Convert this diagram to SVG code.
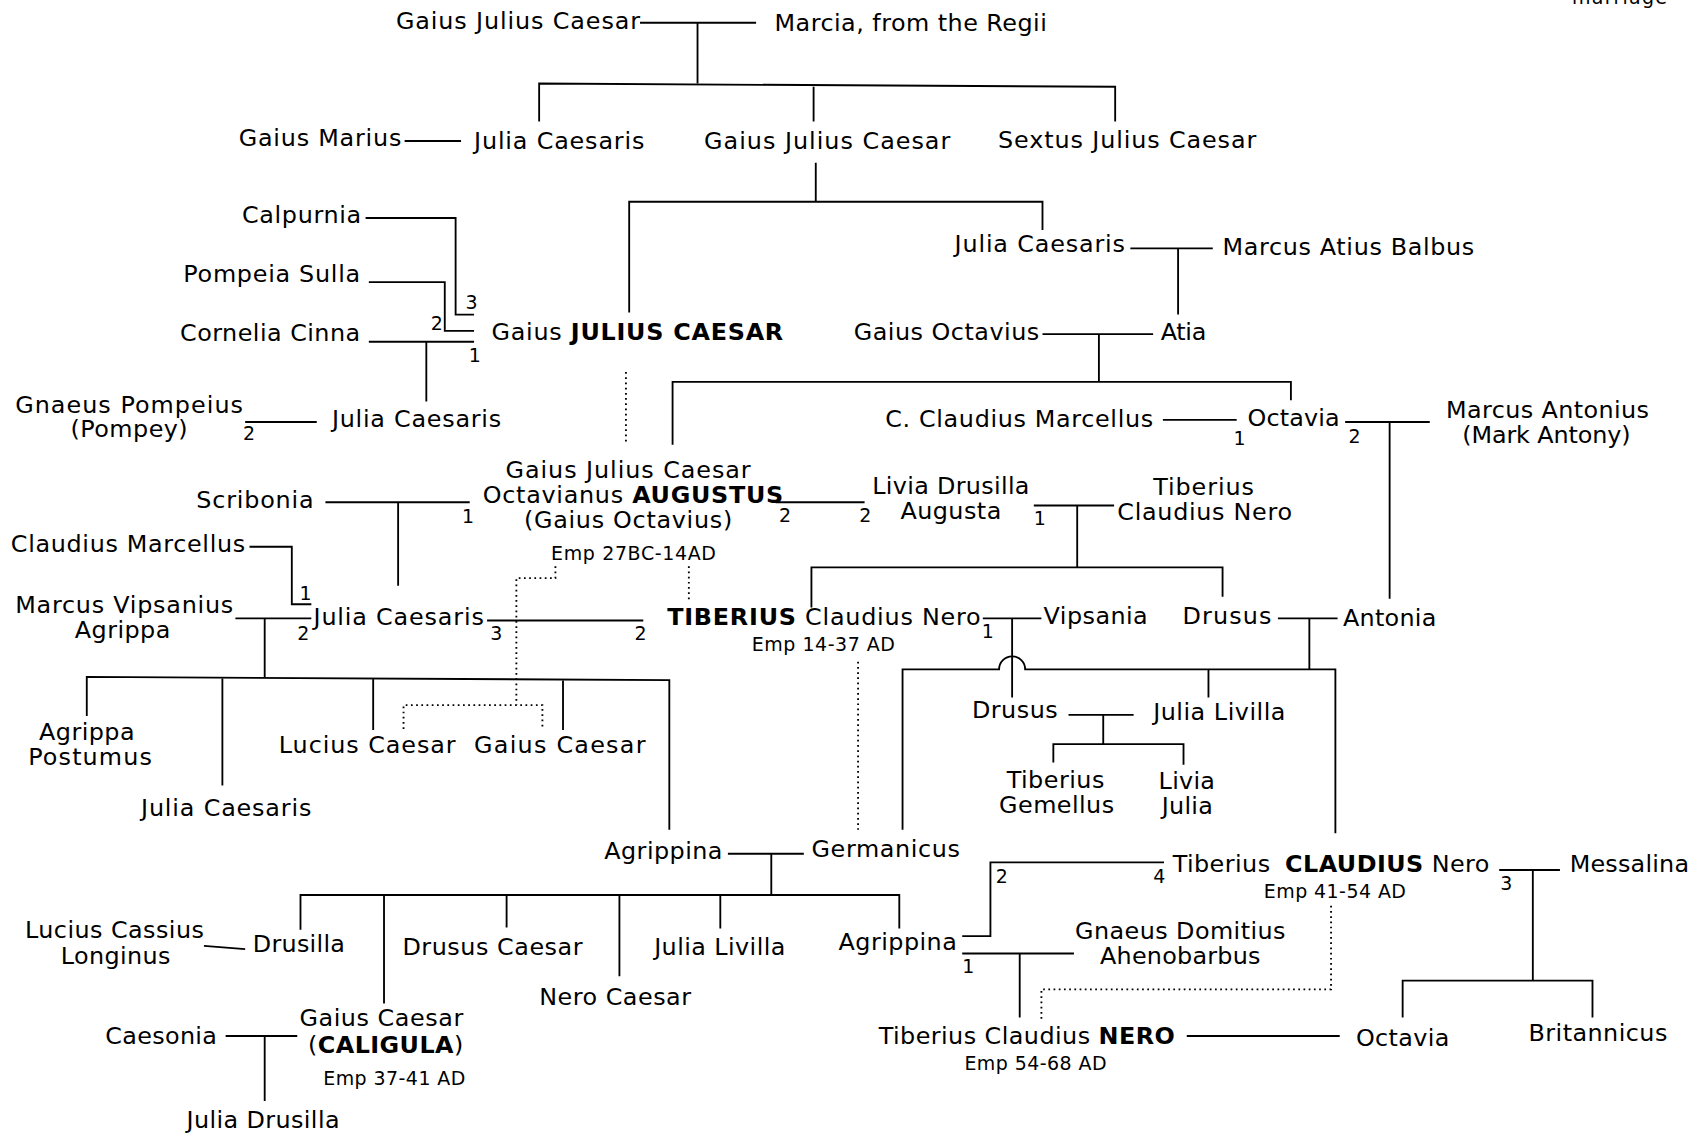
<svg xmlns="http://www.w3.org/2000/svg" width="1701" height="1134" viewBox="0 0 1701 1134">
<style>
text{font-family:"DejaVu Sans","Liberation Sans",sans-serif;fill:#000}
.t{font-size:22px}
.s{font-size:17.5px}
.n{font-size:17.5px}
.b{font-weight:bold}
.ln{fill:none;stroke:#000;stroke-width:1.7}
.dt{fill:none;stroke:#000;stroke-width:1.7;stroke-dasharray:1.6 3.2}
</style>
<rect width="1701" height="1134" fill="#fff"/>
<text x="1572" y="4" style="font-family:'DejaVu Sans',sans-serif;font-size:19px" textLength="95" lengthAdjust="spacing">marriage</text>
<g transform="scale(1.0848)">
<g id="connectors">
<path class="ln" d="M590,21 H697 M643,21 V77"/>
<path class="ln" d="M497,112 V77 L1028,80 V112 M750,80 V112"/>
<path class="ln" d="M373,130 H425"/>
<path class="ln" d="M752,150 V186 M580,288 V186 H961 V212"/>
<path class="ln" d="M337,201 H420 V290 H437"/>
<path class="ln" d="M340,260 H410 V305 H437"/>
<path class="ln" d="M340,315 H437 M393,315 V370"/>
<path class="ln" d="M1042,229 H1118 M1086,229 V290"/>
<path class="ln" d="M961,308 H1063 M1013,308 V352"/>
<path class="ln" d="M620,410 V352 H1190 V369"/>
<path class="dt" d="M577,343 V410"/>
<path class="ln" d="M226,389 H292"/>
<path class="ln" d="M1072,387 H1140"/>
<path class="ln" d="M1240,389 H1318 M1281,389 V552"/>
<path class="ln" d="M300,463 H433 M367,463 V540"/>
<path class="ln" d="M715,463 H797"/>
<path class="ln" d="M953,466 H1027 M993,466 V523"/>
<path class="ln" d="M748,560 V523 H1127 V550"/>
<path class="ln" d="M230,504 H269 V557 H287"/>
<path class="ln" d="M217,570 H287 M244,570 V624"/>
<path class="ln" d="M449,572 H593"/>
<path class="ln" d="M80,660 V624 L617,627 V765 M205,624 V724 M344,625 V673 M519,626 V673"/>
<path class="dt" d="M512,522 V533 H476 V650 M372,672 V650 H500 V672"/>
<path class="dt" d="M635,522 V553"/>
<path class="ln" d="M906,570 H960 M933,570 V643"/>
<path class="ln" d="M1178,570 H1233 M1207,570 V617"/>
<path class="ln" d="M832,765 V617 H921 A12,12 0 0 1 945,617 H1231 V768 M1114,617 V643"/>
<path class="dt" d="M791,610 V765"/>
<path class="ln" d="M985,659 H1045 M1017,659 V686 M971,703 V686 H1091 V705"/>
<path class="ln" d="M671,787 H741 M711,787 V825"/>
<path class="ln" d="M277,857 V825 H829 V856 M354,825 V925 M467,825 V855 M571,825 V900 M664,825 V856"/>
<path class="ln" d="M188,872 L226,875"/>
<path class="ln" d="M887,863 H913 V795 H1073"/>
<path class="ln" d="M887,879 H990 M940,879 V938"/>
<path class="ln" d="M1382,802 H1438 M1413,802 V904 M1293,938 V904 H1468 V938"/>
<path class="dt" d="M1227,835 V912 H960 V940"/>
<path class="ln" d="M1094,955 H1235"/>
<path class="ln" d="M208,955 H274 M244,955 V1015"/>
</g>
<g id="labels">
<text class="n" x="429" y="285">3</text>
<text class="n" x="397" y="304">2</text>
<text class="n" x="432" y="334">1</text>
<text class="n" x="224" y="406">2</text>
<text class="n" x="1137" y="410">1</text>
<text class="n" x="1243" y="408">2</text>
<text class="n" x="426" y="482">1</text>
<text class="n" x="718" y="481">2</text>
<text class="n" x="792" y="481">2</text>
<text class="n" x="953" y="484">1</text>
<text class="n" x="276" y="553">1</text>
<text class="n" x="274" y="590">2</text>
<text class="n" x="452" y="590">3</text>
<text class="n" x="585" y="590">2</text>
<text class="n" x="905" y="588">1</text>
<text class="n" x="918" y="814">2</text>
<text class="n" x="1063" y="814">4</text>
<text class="n" x="887" y="897">1</text>
<text class="n" x="1383" y="820">3</text>
</g>
<g id="n1"><text class="t" x="365" y="27" textLength="225" lengthAdjust="spacing">Gaius Julius Caesar</text></g>
<g id="n2"><text class="t" x="714" y="29" textLength="251" lengthAdjust="spacing">Marcia, from the Regii</text></g>
<g id="n3"><text class="t" x="220" y="135" textLength="150" lengthAdjust="spacing">Gaius Marius</text></g>
<g id="n4"><text class="t" x="437" y="137" textLength="157" lengthAdjust="spacing">Julia Caesaris</text></g>
<g id="n5"><text class="t" x="649" y="137" textLength="227" lengthAdjust="spacing">Gaius Julius Caesar</text></g>
<g id="n6"><text class="t" x="920" y="136" textLength="238" lengthAdjust="spacing">Sextus Julius Caesar</text></g>
<g id="n7"><text class="t" x="223" y="206" textLength="110" lengthAdjust="spacing">Calpurnia</text></g>
<g id="n8"><text class="t" x="880" y="232" textLength="157" lengthAdjust="spacing">Julia Caesaris</text></g>
<g id="n9"><text class="t" x="1127" y="235" textLength="232" lengthAdjust="spacing">Marcus Atius Balbus</text></g>
<g id="n10"><text class="t" x="169" y="260" textLength="163" lengthAdjust="spacing">Pompeia Sulla</text></g>
<g id="n11"><text class="t" x="166" y="314" textLength="166" lengthAdjust="spacing">Cornelia Cinna</text></g>
<g id="n12"><text class="t" x="453" y="313" textLength="269" lengthAdjust="spacing">Gaius <tspan class="b">JULIUS CAESAR</tspan></text></g>
<g id="n13"><text class="t" x="787" y="313" textLength="171" lengthAdjust="spacing">Gaius Octavius</text></g>
<g id="n14"><text class="t" x="1070" y="313" textLength="42" lengthAdjust="spacing">Atia</text></g>
<g id="n15"><text class="t" x="14" y="381" textLength="210" lengthAdjust="spacing">Gnaeus Pompeius</text><text class="t" x="65" y="403" textLength="108" lengthAdjust="spacing">(Pompey)</text></g>
<g id="n16"><text class="t" x="306" y="394" textLength="156" lengthAdjust="spacing">Julia Caesaris</text></g>
<g id="n17"><text class="t" x="816" y="394" textLength="247" lengthAdjust="spacing">C. Claudius Marcellus</text></g>
<g id="n18"><text class="t" x="1150" y="393" textLength="85" lengthAdjust="spacing">Octavia</text></g>
<g id="n19"><text class="t" x="1333" y="385" textLength="187" lengthAdjust="spacing">Marcus Antonius</text><text class="t" x="1348" y="408" textLength="155" lengthAdjust="spacing">(Mark Antony)</text></g>
<g id="n20"><text class="t" x="466" y="441" textLength="226" lengthAdjust="spacing">Gaius Julius Caesar</text><text class="t" x="445" y="464" textLength="277" lengthAdjust="spacing">Octavianus <tspan class="b">AUGUSTUS</tspan></text><text class="t" x="483" y="487" textLength="192" lengthAdjust="spacing">(Gaius Octavius)</text><text class="s" x="508" y="516" textLength="152" lengthAdjust="spacing">Emp 27BC-14AD</text></g>
<g id="n21"><text class="t" x="181" y="468" textLength="108" lengthAdjust="spacing">Scribonia</text></g>
<g id="n22"><text class="t" x="804" y="455" textLength="145" lengthAdjust="spacing">Livia Drusilla</text><text class="t" x="830" y="478" textLength="93" lengthAdjust="spacing">Augusta</text></g>
<g id="n23"><text class="t" x="1063" y="456" textLength="93" lengthAdjust="spacing">Tiberius</text><text class="t" x="1030" y="479" textLength="161" lengthAdjust="spacing">Claudius Nero</text></g>
<g id="n24"><text class="t" x="10" y="509" textLength="216" lengthAdjust="spacing">Claudius Marcellus</text></g>
<g id="n25"><text class="t" x="14" y="565" textLength="201" lengthAdjust="spacing">Marcus Vipsanius</text><text class="t" x="69" y="588" textLength="88" lengthAdjust="spacing">Agrippa</text></g>
<g id="n26"><text class="t" x="289" y="576" textLength="157" lengthAdjust="spacing">Julia Caesaris</text></g>
<g id="n27"><text class="t" x="615" y="576" textLength="289" lengthAdjust="spacing"><tspan class="b">TIBERIUS</tspan> Claudius Nero</text><text class="s" x="693" y="600" textLength="132" lengthAdjust="spacing">Emp 14-37 AD</text></g>
<g id="n28"><text class="t" x="962" y="575" textLength="96" lengthAdjust="spacing">Vipsania</text></g>
<g id="n29"><text class="t" x="1090" y="575" textLength="82" lengthAdjust="spacing">Drusus</text></g>
<g id="n30"><text class="t" x="1238" y="577" textLength="86" lengthAdjust="spacing">Antonia</text></g>
<g id="n31"><text class="t" x="36" y="682" textLength="88" lengthAdjust="spacing">Agrippa</text><text class="t" x="26" y="705" textLength="114" lengthAdjust="spacing">Postumus</text></g>
<g id="n32"><text class="t" x="130" y="752" textLength="157" lengthAdjust="spacing">Julia Caesaris</text></g>
<g id="n33"><text class="t" x="257" y="694" textLength="163" lengthAdjust="spacing">Lucius Caesar</text></g>
<g id="n34"><text class="t" x="437" y="694" textLength="158" lengthAdjust="spacing">Gaius Caesar</text></g>
<g id="n35"><text class="t" x="896" y="662" textLength="79" lengthAdjust="spacing">Drusus</text></g>
<g id="n36"><text class="t" x="1063" y="664" textLength="122" lengthAdjust="spacing">Julia Livilla</text></g>
<g id="n37"><text class="t" x="928" y="726" textLength="90" lengthAdjust="spacing">Tiberius</text><text class="t" x="921" y="749" textLength="106" lengthAdjust="spacing">Gemellus</text></g>
<g id="n38"><text class="t" x="1068" y="727" textLength="52" lengthAdjust="spacing">Livia</text><text class="t" x="1071" y="750" textLength="47" lengthAdjust="spacing">Julia</text></g>
<g id="n39"><text class="t" x="557" y="792" textLength="109" lengthAdjust="spacing">Agrippina</text></g>
<g id="n40"><text class="t" x="748" y="790" textLength="137" lengthAdjust="spacing">Germanicus</text></g>
<g id="n41"><text class="t" x="23" y="865" textLength="165" lengthAdjust="spacing">Lucius Cassius</text><text class="t" x="56" y="889" textLength="101" lengthAdjust="spacing">Longinus</text></g>
<g id="n42"><text class="t" x="233" y="878" textLength="85" lengthAdjust="spacing">Drusilla</text></g>
<g id="n43"><text class="t" x="371" y="880" textLength="166" lengthAdjust="spacing">Drusus Caesar</text></g>
<g id="n44"><text class="t" x="497" y="926" textLength="140" lengthAdjust="spacing">Nero Caesar</text></g>
<g id="n45"><text class="t" x="603" y="880" textLength="121" lengthAdjust="spacing">Julia Livilla</text></g>
<g id="n46"><text class="t" x="773" y="876" textLength="109" lengthAdjust="spacing">Agrippina</text></g>
<g id="n47"><text class="t" x="1081" y="804" textLength="292" lengthAdjust="spacing">Tiberius <tspan class="b" dx="6">CLAUDIUS</tspan> Nero</text><text class="s" x="1165" y="828" textLength="131" lengthAdjust="spacing">Emp 41-54 AD</text></g>
<g id="n48"><text class="t" x="1447" y="804" textLength="110" lengthAdjust="spacing">Messalina</text></g>
<g id="n49"><text class="t" x="991" y="866" textLength="194" lengthAdjust="spacing">Gnaeus Domitius</text><text class="t" x="1014" y="889" textLength="148" lengthAdjust="spacing">Ahenobarbus</text></g>
<g id="n50"><text class="t" x="810" y="962" textLength="273" lengthAdjust="spacing">Tiberius Claudius <tspan class="b">NERO</tspan></text><text class="s" x="889" y="986" textLength="131" lengthAdjust="spacing">Emp 54-68 AD</text></g>
<g id="n51"><text class="t" x="1250" y="964" textLength="86" lengthAdjust="spacing">Octavia</text></g>
<g id="n52"><text class="t" x="1409" y="960" textLength="128" lengthAdjust="spacing">Britannicus</text></g>
<g id="n53"><text class="t" x="97" y="962" textLength="103" lengthAdjust="spacing">Caesonia</text></g>
<g id="n54"><text class="t" x="276" y="946" textLength="151" lengthAdjust="spacing">Gaius Caesar</text><text class="t" x="284" y="971" textLength="143" lengthAdjust="spacing">(<tspan class="b">CALIGULA</tspan>)</text><text class="s" x="298" y="1000" textLength="131" lengthAdjust="spacing">Emp 37-41 AD</text></g>
<g id="n55"><text class="t" x="172" y="1040" textLength="141" lengthAdjust="spacing">Julia Drusilla</text></g>
</g>
</svg>
